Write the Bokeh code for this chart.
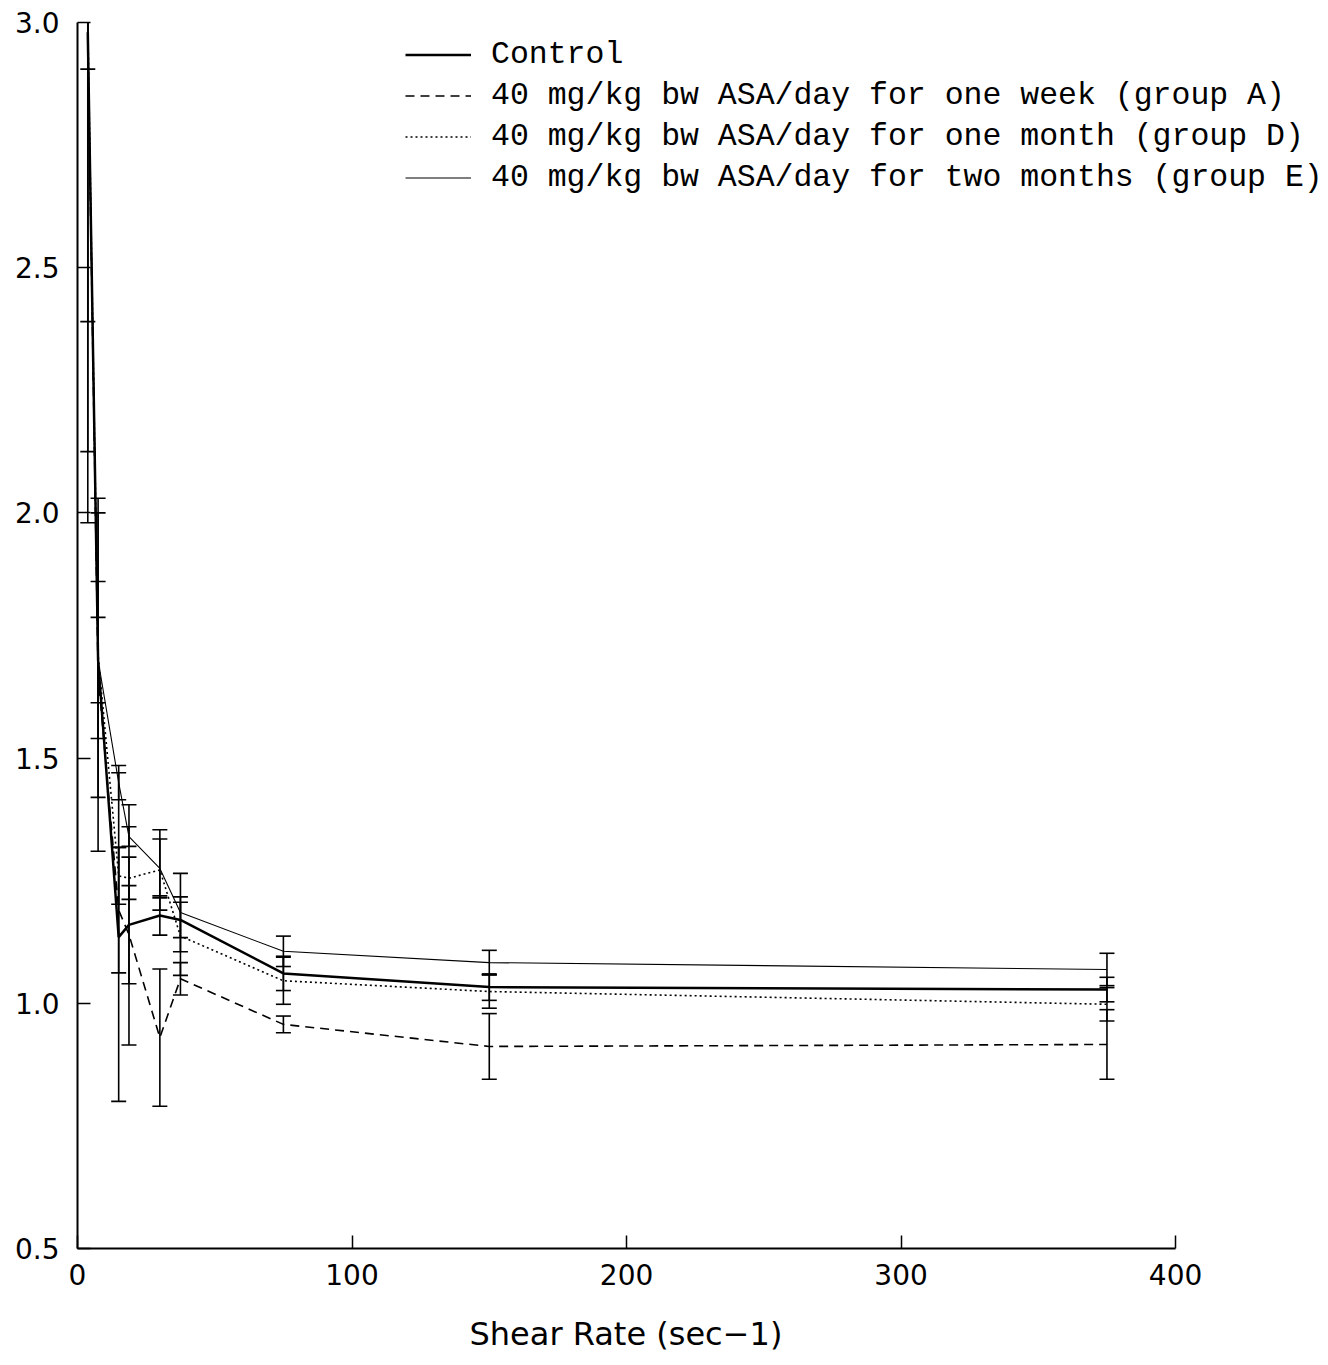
from bokeh.plotting import figure
from bokeh.models import Range1d, FixedTicker, Legend, LegendItem, ColumnDataSource, PrintfTickFormatter, Title
from bokeh.embed import file_html
from bokeh.resources import INLINE

# ---- data ----
shear = [3.75, 7.5, 15, 18.75, 30, 37.5, 75, 150, 375]

control = [2.98, 1.70, 1.135, 1.16, 1.179, 1.17, 1.061, 1.033, 1.028]
control_sd = [0.59, 0.16, 0.335, 0.245, 0.04, 0.036, 0.035, 0.027, 0.025]

group_a = [2.96, 1.67, 1.19, 1.14, 0.93, 1.05, 0.957, 0.912, 0.916]
group_a_sd = [0.835, 0.36, 0.128, 0.10, 0.14, 0.033, 0.017, 0.067, 0.071]

group_d = [3.0, 1.71, 1.26, 1.255, 1.272, 1.137, 1.046, 1.024, 0.998]
group_d_sd = [1.02, 0.29, 0.058, 0.043, 0.082, 0.08, 0.048, 0.034, 0.034]

group_e = [2.99, 1.70, 1.45, 1.34, 1.275, 1.185, 1.106, 1.083, 1.069]
group_e_sd = [0.085, 0.087, 0.035, 0.02, 0.06, 0.08, 0.031, 0.025, 0.033]

labels = [
    "Control",
    "40 mg/kg bw ASA/day for one week (group A)",
    "40 mg/kg bw ASA/day for one month (group D)",
    "40 mg/kg bw ASA/day for two months (group E)",
]

x_ticks = [0, 100, 200, 300, 400]
y_ticks = [0.5, 1.0, 1.5, 2.0, 2.5, 3.0]

# frame runs to the page's right edge so the legend is not clipped;
# the x axis itself is bounded to 0..400
p = figure(width=1328, height=1365,
           x_range=Range1d(0, 455.7), y_range=Range1d(0.5, 3.0),
           output_backend="svg", toolbar_location=None,
           min_border_left=77, min_border_right=0,
           min_border_top=22, min_border_bottom=117)
p.outline_line_color = None
p.grid.visible = False

for ax in (p.xaxis[0], p.yaxis[0]):
    ax.axis_line_width = 2
    ax.axis_line_color = "black"
    ax.major_tick_in = 13
    ax.major_tick_out = 0
    ax.major_tick_line_width = 1.5
    ax.major_tick_line_color = "black"
    ax.minor_tick_line_color = None
    ax.major_label_text_font = "DejaVu Sans"
    ax.major_label_text_font_size = "28px"
    ax.major_label_text_color = "black"

p.xaxis.bounds = (0, 400)
p.xaxis.ticker = FixedTicker(ticks=x_ticks)
p.yaxis.ticker = FixedTicker(ticks=y_ticks)
p.xaxis.formatter = PrintfTickFormatter(format="%d")
p.yaxis.formatter = PrintfTickFormatter(format="%.1f")
p.xaxis.major_label_standoff = 15
p.yaxis.major_label_standoff = 18

# small blank spacer, then the x-axis title under the bounded axis (centred on 0..400)
spacer = Title(text=" ", text_font_size="10px", standoff=0)
p.add_layout(spacer, "below")
xtitle = Title(text="Shear Rate (sec\u22121)", align="left", offset=392,
               text_font="DejaVu Sans", text_font_size="32px",
               text_font_style="normal", text_color="black", standoff=24)
p.add_layout(xtitle, "below")

styles = [
    dict(line_width=2.5, line_dash="solid"),
    dict(line_width=1.6, line_dash="9 6"),
    dict(line_width=1.6, line_dash="2 3"),
    dict(line_width=1.1, line_dash="solid"),
]
series = [(control, control_sd), (group_a, group_a_sd), (group_d, group_d_sd), (group_e, group_e_sd)]

items = []
for (vals, sds), st, lab in zip(series, styles, labels):
    lower = [v - s for v, s in zip(vals, sds)]
    upper = [v + s for v, s in zip(vals, sds)]
    src = ColumnDataSource(dict(x=shear, y=vals, lower=lower, upper=upper))
    p.segment(x0="x", y0="lower", x1="x", y1="upper", source=src, line_color="black", line_width=1.6)
    p.scatter(x="x", y="lower", source=src, marker="dash", size=15, line_color="black", line_width=1.6)
    p.scatter(x="x", y="upper", source=src, marker="dash", size=15, line_color="black", line_width=1.6)
    r = p.line(x="x", y="y", source=src, line_color="black", **st)
    items.append(LegendItem(label=lab, renderers=[r]))

legend = Legend(items=items, location=(328, 1050),
                border_line_color=None, background_fill_alpha=0,
                label_text_font="Liberation Mono", label_text_font_size="31.5px",
                label_text_color="black",
                glyph_width=66, glyph_height=41, label_height=41,
                label_standoff=20, padding=0, margin=0, spacing=0)
p.add_layout(legend)

open("out.html", "w").write(file_html(p, INLINE))
